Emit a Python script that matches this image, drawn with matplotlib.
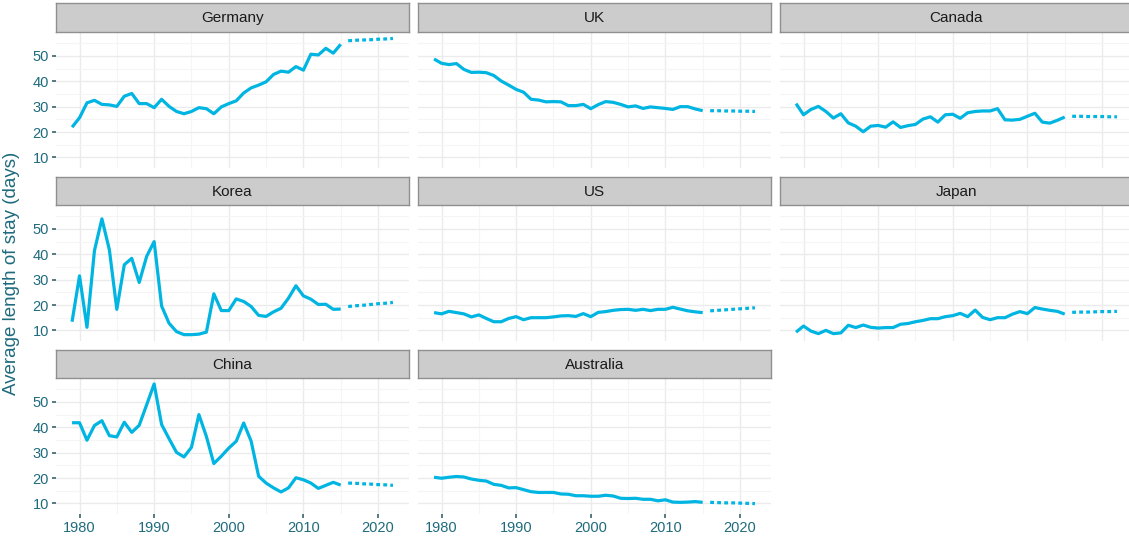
import matplotlib
matplotlib.use("Agg")
import matplotlib.pyplot as plt
from matplotlib.ticker import FixedLocator

plt.rcParams['font.family'] = ['Liberation Sans', 'DejaVu Sans']

# ---------------- data ----------------
years = list(range(1979, 2016))
proj_years = list(range(2016, 2023))

countries = ["Germany", "UK", "Canada", "Korea", "US", "Japan", "China", "Australia"]

germany = [21.9, 25.6, 31.5, 32.5, 30.9, 30.7, 30.1, 34.1, 35.2, 31.2, 31.2, 29.6, 32.9,
           30.1, 28.1, 27.2, 28.1, 29.6, 29.2, 27.2, 29.9, 31.2, 32.3, 35.4, 37.4, 38.5,
           39.8, 42.7, 44.0, 43.6, 45.8, 44.4, 50.7, 50.4, 53.0, 51.1, 54.6]
uk = [48.8, 47.1, 46.6, 47.0, 44.7, 43.5, 43.6, 43.4, 42.3, 40.1, 38.5, 36.8, 35.7,
      32.9, 32.6, 31.9, 32.0, 31.9, 30.4, 30.4, 30.9, 29.2, 30.8, 32.0, 31.7, 30.9,
      29.9, 30.3, 29.3, 29.9, 29.6, 29.3, 28.9, 30.0, 30.0, 29.1, 28.4]
canada = [31.2, 26.8, 28.9, 30.1, 28.1, 25.5, 27.2, 23.6, 22.3, 20.1, 22.3, 22.6, 21.9,
          24.0, 21.8, 22.5, 23.0, 25.1, 26.0, 23.9, 26.8, 27.0, 25.4, 27.6, 28.1, 28.3,
          28.3, 29.2, 24.8, 24.7, 25.0, 26.2, 27.4, 23.9, 23.5, 24.6, 25.9]
korea = [13.4, 31.5, 11.2, 41.4, 54.0, 41.8, 18.3, 35.9, 38.4, 28.9, 39.2, 45.0, 19.6,
         12.8, 9.5, 8.3, 8.3, 8.5, 9.3, 24.4, 17.8, 17.8, 22.4, 21.4, 19.4, 15.9,
         15.5, 17.3, 18.7, 22.7, 27.6, 23.6, 22.3, 20.2, 20.3, 18.3, 18.4]
us = [17.0, 16.5, 17.5, 17.0, 16.5, 15.3, 16.1, 14.7, 13.4, 13.4, 14.7, 15.4, 14.2,
      15.0, 15.0, 15.0, 15.3, 15.7, 15.8, 15.5, 16.6, 15.4, 17.1, 17.4, 17.9, 18.2,
      18.3, 17.9, 18.3, 17.8, 18.3, 18.3, 19.1, 18.4, 17.7, 17.3, 17.0]
japan = [9.3, 11.7, 9.7, 8.7, 10.0, 8.7, 9.0, 12.0, 11.1, 12.1, 11.2, 10.9, 11.1,
         11.1, 12.4, 12.7, 13.4, 13.9, 14.6, 14.6, 15.4, 15.8, 16.7, 15.4, 18.0, 15.1,
         14.2, 15.0, 15.0, 16.4, 17.4, 16.6, 19.0, 18.4, 17.9, 17.5, 16.4]
china = [41.8, 41.8, 34.9, 40.7, 42.6, 36.7, 36.2, 42.0, 38.0, 40.8, 48.9, 57.1, 41.1,
         35.5, 30.1, 28.3, 32.1, 45.0, 36.4, 25.7, 28.6, 31.8, 34.5, 41.7, 34.5, 20.7,
         18.0, 16.1, 14.5, 16.1, 20.1, 19.3, 18.0, 15.9, 17.1, 18.3, 17.2]
australia = [20.3, 19.9, 20.3, 20.6, 20.4, 19.6, 19.1, 18.8, 17.5, 17.1, 16.1, 16.2, 15.4,
             14.6, 14.3, 14.3, 14.3, 13.7, 13.6, 13.0, 13.0, 12.8, 12.8, 13.2, 12.9, 12.0,
             11.9, 12.0, 11.6, 11.6, 11.0, 11.4, 10.5, 10.4, 10.5, 10.7, 10.4]

germany_proj = [56.0, 56.2, 56.3, 56.4, 56.6, 56.7, 56.9]
uk_proj = [28.4, 28.4, 28.3, 28.3, 28.2, 28.2, 28.1]
canada_proj = [26.2, 26.2, 26.1, 26.1, 26.1, 26.0, 26.0]
korea_proj = [19.4, 19.7, 19.9, 20.2, 20.5, 20.7, 21.0]
us_proj = [17.7, 17.9, 18.1, 18.3, 18.5, 18.7, 18.9]
japan_proj = [17.1, 17.2, 17.2, 17.3, 17.4, 17.4, 17.5]
china_proj = [18.0, 17.9, 17.7, 17.6, 17.4, 17.3, 17.1]
australia_proj = [10.4, 10.3, 10.2, 10.2, 10.1, 10.0, 9.9]

y_ticks = [10, 20, 30, 40, 50]
x_ticks = [1980, 1990, 2000, 2010, 2020]
x_tick_labels = ["1980", "1990", "2000", "2010", "2020"]
y_label = "Average length of stay (days)"

series = [germany, uk, canada, korea, us, japan, china, australia]
projs = [germany_proj, uk_proj, canada_proj, korea_proj, us_proj, japan_proj,
         china_proj, australia_proj]

# ---------------- style ----------------
W, H = 1129, 540
LINE = "#00B5E2"
TEAL = "#1F6B7D"
TICKC = "#2B5560"
MAJ = "#EBEBEB"
MIN = "#F5F5F5"

fig = plt.figure(figsize=(W / 100, H / 100), dpi=100)

col_left = [56, 418, 780]
col_w = 353
rows = [(3, 32, 168), (177, 205, 341), (350, 378, 514)]  # strip top, plot top, plot bottom


def fpos(l, top, w, h):
    return [l / W, 1 - (top + h) / H, w / W, h / H]


for i, (name, vals, pv) in enumerate(zip(countries, series, projs)):
    r, c = divmod(i, 3)
    st, pt, pb = rows[r]
    l = col_left[c]
    ax = fig.add_axes(fpos(l, pt, col_w, pb - pt))
    sax = fig.add_axes(fpos(l, st, col_w, pt - st))

    # strip
    sax.set_facecolor("#CCCCCC")
    sax.set_xticks([]); sax.set_yticks([])
    for sp in sax.spines.values():
        sp.set_color("#8F8F8F"); sp.set_linewidth(1.0)
    sax.text(0.5, 0.47, name, ha="center", va="center", fontsize=11,
             color="#1A1A1A", transform=sax.transAxes)

    # panel
    ax.set_xlim(1976.85, 2024.15)
    ax.set_ylim(5.8, 59.45)
    ax.xaxis.set_major_locator(FixedLocator(x_ticks))
    ax.xaxis.set_minor_locator(FixedLocator([1985, 1995, 2005, 2015]))
    ax.yaxis.set_major_locator(FixedLocator(y_ticks))
    ax.yaxis.set_minor_locator(FixedLocator([15, 25, 35, 45, 55]))
    ax.grid(which="major", color=MAJ, lw=1.0)
    ax.grid(which="minor", color=MIN, lw=0.8)
    ax.set_axisbelow(True)
    for sp in ax.spines.values():
        sp.set_visible(False)

    ax.plot(years, vals, color=LINE, lw=2.3, solid_joinstyle="round",
            solid_capstyle="butt", zorder=3)
    ax.plot(proj_years, pv, color=LINE, lw=2.3, dashes=(1.2, 1.0),
            dash_capstyle="butt", zorder=3)

    ax.tick_params(which="minor", length=0)
    ax.tick_params(which="major", length=3.2, width=1.1, color=TICKC,
                   labelcolor=TEAL, labelsize=10.5, pad=2)
    if c == 0:
        ax.set_yticklabels([str(v) for v in y_ticks])
    else:
        ax.tick_params(axis="y", which="major", length=0, labelleft=False)
    if r == 2:
        ax.set_xticklabels(x_tick_labels)
    else:
        ax.tick_params(axis="x", which="major", length=0, labelbottom=False)

fig.text(12 / W, 1 - 273 / H, y_label, rotation=90, ha="center", va="center",
         fontsize=13.5, color=TEAL)

fig.savefig("out.png", dpi=100, facecolor="white")
